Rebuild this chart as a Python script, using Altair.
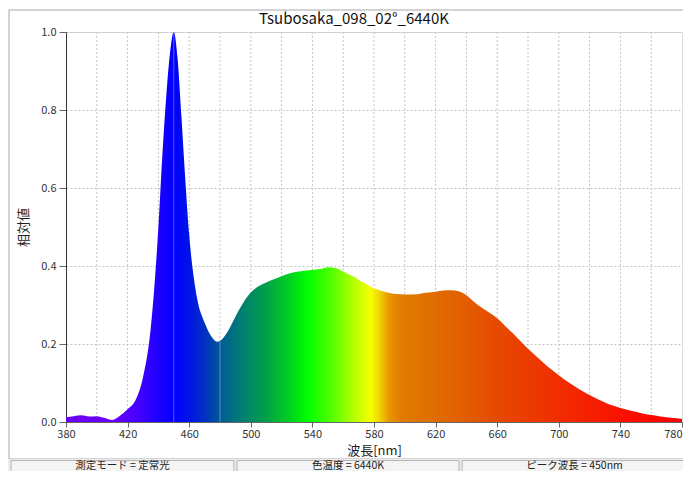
import altair as alt
import pandas as pd

# ---------------- data ----------------
wavelength_nm = [380, 385, 390, 395, 400, 405, 410, 415, 420, 425, 430, 435, 440, 442.5,
                 445, 447.5, 450, 452.5, 455, 457.5, 460, 465, 470, 475, 478, 480, 485,
                 490, 495, 500, 505, 510, 515, 520, 525, 530, 535, 540, 545, 550, 555,
                 560, 565, 570, 575, 580, 585, 590, 595, 600, 605, 610, 615, 620, 625,
                 630, 635, 640, 645, 650, 655, 660, 665, 670, 675, 680, 685, 690, 695,
                 700, 705, 710, 715, 720, 725, 730, 735, 740, 745, 750, 755, 760, 765,
                 770, 775, 780]
relative_value = [0.012, 0.015, 0.017, 0.014, 0.015, 0.010, 0.005, 0.016, 0.033, 0.055,
                  0.115, 0.240, 0.500, 0.680, 0.830, 0.945, 1.000, 0.930, 0.780, 0.620,
                  0.480, 0.320, 0.255, 0.216, 0.206, 0.208, 0.232, 0.270, 0.305, 0.332,
                  0.348, 0.358, 0.366, 0.374, 0.381, 0.385, 0.388, 0.390, 0.392, 0.397,
                  0.395, 0.386, 0.376, 0.365, 0.354, 0.343, 0.336, 0.331, 0.328, 0.327,
                  0.327, 0.329, 0.332, 0.334, 0.337, 0.338, 0.335, 0.325, 0.308, 0.293,
                  0.280, 0.266, 0.247, 0.228, 0.208, 0.188, 0.170, 0.152, 0.135, 0.120,
                  0.105, 0.092, 0.080, 0.069, 0.059, 0.050, 0.042, 0.036, 0.031, 0.026,
                  0.021, 0.018, 0.015, 0.012, 0.010, 0.008]

x_tick_labels = [380, 420, 460, 500, 540, 580, 620, 660, 700, 740, 780]
x_grid_nm = [400, 420, 440, 460, 480, 500, 520, 540, 560, 580, 600, 620, 640, 660,
             680, 700, 720, 740, 760]
y_tick_values = [0.0, 0.2, 0.4, 0.6, 0.8, 1.0]

marker_nm = [450, 480]
marker_value = [1.0, 0.207]

title_text = "Tsubosaka_098_02°_6440K"
x_title = "波長[nm]"
y_title = "相対値"
footer_labels = ["測定モード = 定常光", "色温度 = 6440K", "ピーク波長 = 450nm"]

# spectral colour stops (wavelength -> colour)
stop_nm = [380, 410, 425, 440, 450, 462, 472, 482, 495, 510, 525, 537, 552, 565,
           578, 583, 590, 598, 620, 640, 660, 690, 720, 750, 780]
stop_color = ["#6c00f0", "#6a00ff", "#4a00ff", "#1e00ff", "#0000ff", "#0018e0",
              "#0038b8", "#006090", "#008070", "#00a048", "#00d020", "#00ff00",
              "#50ff00", "#a8ff00", "#f8ff00", "#f0d800", "#e89400", "#e07c00",
              "#e06c00", "#e25c00", "#e64a00", "#ee3400", "#f42000", "#fa0c00",
              "#ff0000"]

# ---------------- build ----------------
spec_df = pd.DataFrame({"nm": wavelength_nm, "v": relative_value})
grid_df = pd.DataFrame({"nm": x_grid_nm})
marker_df = pd.DataFrame({"nm": marker_nm, "v": marker_value,
                          "base": [0.0] * len(marker_nm)})
one = pd.DataFrame({"a": [0]})

FONT = "Noto Sans CJK JP"

x_scale = alt.Scale(domain=[380, 780], nice=False, zero=False)
y_scale = alt.Scale(domain=[0, 1], nice=False, zero=False)
x_axis = alt.Axis(values=x_tick_labels, title=x_title, grid=False, format="d",
                  labelFlush=False, labelOverlap=False,
                  labelAlign={"condition": {"test": "datum.value >= 780",
                                            "value": "right"},
                              "value": "center"},
                  tickSize=5, tickColor="#666666", domainColor="#666666",
                  labelPadding=1, labelFontSize=11, labelColor="#333333",
                  titleFontSize=13, titleFontWeight="normal", titleColor="#222222",
                  titlePadding=5, labelFont=FONT, titleFont=FONT)
y_axis = alt.Axis(values=y_tick_values, title=y_title, format=".1f", grid=True,
                  labelFlush=False, labelOverlap=False,
                  gridColor="#c4c4c4", gridDash=[2, 2], tickSize=7,
                  tickColor="#666666", domainColor="#333333", labelPadding=3,
                  labelFontSize=11, labelColor="#333333", titleFontSize=13,
                  titleFontWeight="normal", titleColor="#222222", titlePadding=10,
                  labelFont=FONT, titleFont=FONT)

x_enc = alt.X("nm:Q", scale=x_scale, axis=x_axis)

grad = alt.Gradient(
    gradient="linear",
    stops=[alt.GradientStop(color=c, offset=(n - 380) / 400.0)
           for n, c in zip(stop_nm, stop_color)],
    x1=0, x2=1, y1=0, y2=0,
)

grid_layer = alt.Chart(grid_df).mark_rule(
    color="#c4c4c4", strokeDash=[2, 2], strokeWidth=1
).encode(x=x_enc)

area_layer = alt.Chart(spec_df).mark_area(
    interpolate="monotone", color=grad, opacity=1
).encode(x=x_enc, y=alt.Y("v:Q", scale=y_scale, axis=y_axis))

marker_layer = alt.Chart(marker_df).mark_rule(
    color="#ffffff", opacity=0.35, strokeWidth=1
).encode(x=x_enc, y=alt.Y("base:Q", scale=y_scale, axis=y_axis), y2="v:Q")

# outer frame of the whole graph panel (decoration)
frame_layer = alt.Chart(one).mark_rect(
    fill=None, stroke="#a8a8a8", strokeWidth=1
).encode(x=alt.value(-57), x2=alt.value(640), y=alt.value(-22), y2=alt.value(427))

# chart title as a text mark (decoration)
title_layer = alt.Chart(pd.DataFrame({"t": [title_text]})).mark_text(
    font=FONT, fontSize=15, color="#111111", align="center", baseline="middle"
).encode(text="t:N", x=alt.value(288), y=alt.value(-13))

# footer strip and cells (decoration)
footer_bg = alt.Chart(one).mark_rect(fill="#eeeeee", stroke=None).encode(
    x=alt.value(-58), x2=alt.value(640), y=alt.value(427), y2=alt.value(460))

cell_x = [(-55, 168), (171, 393), (396, 621)]
cell_layers = []
for (x0, x1), lab in zip(cell_x, footer_labels):
    cell_layers.append(
        alt.Chart(one).mark_rect(fill="#f4f4f4", stroke="#b4b4b4", strokeWidth=1)
        .encode(x=alt.value(x0), x2=alt.value(x1), y=alt.value(428.5), y2=alt.value(460))
    )
    cell_layers.append(
        alt.Chart(pd.DataFrame({"t": [lab]})).mark_text(
            font=FONT, fontSize=10.5, color="#222222", align="center",
            baseline="middle")
        .encode(text="t:N", x=alt.value((x0 + x1) / 2), y=alt.value(434))
    )

chart = alt.layer(
    frame_layer, title_layer, grid_layer, area_layer, marker_layer, footer_bg,
    *cell_layers
).properties(
    width=616,
    height=390,
    autosize=alt.AutoSizeParams(type="none"),
    padding={"left": 58, "top": 24, "right": 1, "bottom": 49},
).configure_view(
    stroke="#333333", strokeWidth=1
).configure(background="#ffffff")

chart.save("out.html", embed_options={"renderer": "svg", "actions": False})
